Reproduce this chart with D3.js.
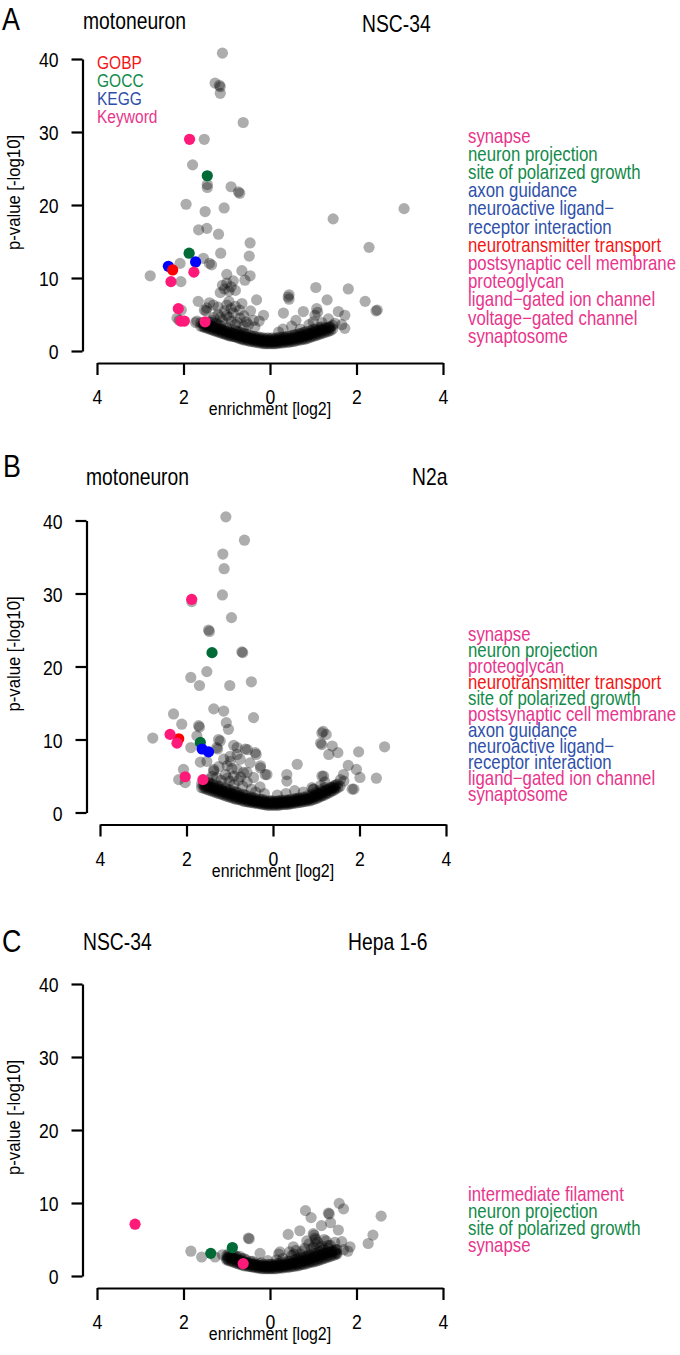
<!DOCTYPE html>
<html><head><meta charset="utf-8">
<script src="https://cdn.jsdelivr.net/npm/d3@7"></script>
<style>html,body{margin:0;padding:0;background:#fff;}svg{display:block;}</style>
</head><body>
<script>
// ---------------- DATA ----------------
const xTicks = [-4, -2, 0, 2, 4];
const xTickLabels = ["4", "2", "0", "2", "4"];
const yTicks = [0, 10, 20, 30, 40];
const categories = ["GOBP", "GOCC", "KEGG", "Keyword"];
const panelLetters = ["A", "B", "C"];
const leftTitles = ["motoneuron", "motoneuron", "NSC-34"];
const rightTitles = ["NSC-34", "N2a", "Hepa 1-6"];
const xLabel = "enrichment [log2]";
const yLabel = "p-value [-log10]";

// Panel A: grey (non-highlighted) terms [enrichment, -log10 p]
const grayA = [
 [-1.10,40.8],[-1.27,36.7],[-1.17,36.4],[-1.15,36.2],[-1.15,35.3],[-0.62,31.3],[-1.52,29.0],[-1.79,25.5],
 [-1.45,22.8],[-1.45,22.4],[-0.90,22.5],[-0.73,21.8],[-0.70,21.6],[-1.94,20.1],[-1.06,19.6],[-1.50,19.1],
 [3.10,19.5],[1.46,18.1],[-1.65,16.6],[-1.46,16.8],[-1.19,16.0],[-0.46,14.8],[2.29,14.2],[-0.48,13.0],
 [-1.14,13.4],[-1.54,12.7],[-2.08,12.0],[-1.40,12.0],[-1.35,11.8],[-2.77,10.3],[-2.06,9.5],[-1.00,10.5],
 [-0.65,11.0],[-0.46,10.3],[-0.58,9.7],[-1.10,9.0],[-1.00,9.3],[-0.90,8.8],[-0.95,8.2],[-1.05,8.5],
 [-0.85,9.6],[-1.15,8.0],[-0.80,8.3],[-0.31,7.0],[-1.66,6.8],[-1.00,6.3],[-0.65,6.5],[-0.95,6.8],
 [-0.90,5.8],[-1.31,6.3],[-1.52,5.6],[-1.48,5.5],[1.06,8.7],[1.81,8.5],[0.44,7.7],[0.44,7.1],[0.42,7.4],
 [1.32,7.0],[2.20,6.8],[2.45,5.5],[2.48,5.6],[0.31,5.2],[0.77,5.4],[1.08,5.8],[1.04,4.9],[1.10,5.3],
 [1.58,5.4],[1.73,4.9],[1.66,3.6],[1.73,3.1],[-0.15,4.9],[-1.46,5.9],[-1.69,4.1],[-1.72,3.9],[-2.15,4.5],
 [-2.10,4.2],[-2.05,5.6],[-1.00,4.9],[-0.69,4.5],[-0.38,4.2],
 [-1.30,4.6],[-1.20,5.0],[-1.10,4.2],[-0.95,4.6],[-0.85,5.2],[-0.75,3.9],[-0.60,4.8],[-0.50,3.6],
 [-0.35,3.3],[-0.25,4.1],[-1.25,3.8],[-0.80,3.6],[-0.60,3.4],[-0.45,5.5],[-1.05,5.5],[-0.70,5.6],
 [0.50,3.4],[0.70,3.0],[0.90,3.6],[1.00,4.0],[1.20,3.9],[0.30,3.0],[0.20,2.6],[0.60,4.2],[1.35,4.4],[1.50,3.8],
 [-1.35,4.2],[-1.15,4.6],[-0.90,4.1],[-0.55,4.0],[-1.40,6.6],[-1.20,6.0],[-0.80,6.1]
];
const bandA = [
 [-1.60,3.4],[-1.60,3.9],[-1.50,3.2],[-1.50,3.7],[-1.40,3.0],[-1.40,3.5],[-1.40,4.0],[-1.30,2.8],[-1.30,3.3],
 [-1.20,2.6],[-1.20,3.1],[-1.20,3.6],[-1.10,2.4],[-1.10,2.9],[-1.00,2.2],[-1.00,2.7],[-1.00,3.2],
 [-0.90,2.0],[-0.90,2.5],[-0.80,1.9],[-0.80,2.3],[-0.80,2.8],[-0.70,1.7],[-0.70,2.1],[-0.70,2.6],
 [-0.60,1.5],[-0.60,1.9],[-0.60,2.4],[-0.50,1.4],[-0.50,1.8],[-0.50,2.2],[-0.40,1.3],[-0.40,1.6],[-0.40,2.0],
 [-0.30,1.2],[-0.30,1.5],[-0.30,1.9],[-0.20,1.1],[-0.20,1.4],[-0.20,1.8],[-0.10,1.0],[-0.10,1.3],[-0.10,1.7],
 [0.00,1.0],[0.00,1.3],[0.00,1.7],[0.10,1.0],[0.10,1.3],[0.10,1.7],[0.20,1.1],[0.20,1.4],[0.20,1.8],
 [0.30,1.1],[0.30,1.5],[0.30,1.9],[0.40,1.2],[0.40,1.6],[0.40,2.0],[0.50,1.3],[0.50,1.7],[0.50,2.1],
 [0.60,1.4],[0.60,1.8],[0.60,2.2],[0.70,1.5],[0.70,1.9],[0.70,2.4],[0.80,1.6],[0.80,2.1],[0.80,2.6],
 [0.90,1.8],[0.90,2.3],[1.00,2.0],[1.00,2.5],[1.00,3.0],[1.10,2.2],[1.10,2.7],[1.20,2.4],[1.20,2.9],[1.20,3.3],
 [1.30,2.6],[1.30,3.1],[1.40,2.8],[1.40,3.3],
 [-1.55,3.3],[-1.55,3.8],[-1.45,3.1],[-1.45,3.6],[-1.35,2.9],[-1.35,3.4],[-1.35,3.9],[-1.25,2.7],[-1.25,3.2],
 [-1.15,2.5],[-1.15,3.0],[-1.15,3.5],[-1.05,2.3],[-1.05,2.8],[-0.95,2.1],[-0.95,2.6],[-0.95,3.1],[-0.85,2.0],
 [-0.85,2.5],[-0.75,1.8],[-0.75,2.2],[-0.75,2.7],[-0.65,1.6],[-0.65,2.0],[-0.65,2.5],[-0.55,1.5],[-0.55,1.9],
 [-0.55,2.3],[-0.45,1.3],[-0.45,1.7],[-0.45,2.1],[-0.35,1.2],[-0.35,1.6],[-0.35,2.0],[-0.25,1.1],[-0.25,1.5],
 [-0.25,1.9],[-0.15,1.0],[-0.15,1.4],[-0.15,1.8],[-0.05,1.0],[-0.05,1.4],[-0.05,1.8],[0.05,1.0],[0.05,1.4],
 [0.05,1.8],[0.15,1.0],[0.15,1.4],[0.15,1.8],[0.25,1.1],[0.25,1.5],[0.25,1.9],[0.35,1.2],[0.35,1.5],[0.35,1.9],
 [0.45,1.2],[0.45,1.6],[0.45,2.0],[0.55,1.3],[0.55,1.7],[0.55,2.2],[0.65,1.5],[0.65,1.9],[0.65,2.3],[0.75,1.6],
 [0.75,2.0],[0.75,2.5],[0.85,1.7],[0.85,2.2],[0.85,2.7],[0.95,1.9],[0.95,2.4],[0.95,2.8],[1.05,2.1],[1.05,2.6],
 [1.05,3.0],[1.15,2.3],[1.15,2.8],[1.15,3.2],[1.25,2.5],[1.25,3.0],[1.35,2.7],[1.35,3.2],[1.45,3.0],[1.45,3.5]
];
const coreA = [
 [-1.525,3.4],[-1.525,3.7],[-1.425,3.2],[-1.425,3.5],[-1.325,3.0],[-1.325,3.3],[-1.225,2.8],[-1.225,3.1],
 [-1.125,2.6],[-1.125,2.9],[-1.025,2.4],[-1.025,2.7],[-0.925,2.2],[-0.925,2.5],[-0.825,2.0],[-0.825,2.3],
 [-0.725,1.9],[-0.725,2.2],[-0.625,1.7],[-0.625,2.0],[-0.525,1.6],[-0.525,1.9],[-0.425,1.5],[-0.425,1.8],
 [-0.325,1.4],[-0.325,1.7],[-0.225,1.3],[-0.225,1.6],[-0.125,1.2],[-0.125,1.5],[-0.025,1.2],[-0.025,1.5],
 [0.075,1.2],[0.075,1.5],[0.175,1.2],[0.175,1.5],[0.275,1.3],[0.275,1.6],[0.375,1.4],[0.375,1.7],
 [0.475,1.5],[0.475,1.8],[0.575,1.6],[0.575,1.9],[0.675,1.7],[0.675,2.0],[0.775,1.8],[0.775,2.2],
 [0.875,2.0],[0.875,2.4],[0.975,2.2],[0.975,2.6],[1.075,2.4],[1.075,2.8],[1.175,2.6],[1.175,3.0],
 [1.275,2.8],[1.275,3.2],[1.375,3.0],[1.375,3.3]
];
const hitsA = [
 [-1.86,29.0,"Keyword"],[-1.45,24.0,"GOCC"],[-1.87,13.4,"GOCC"],[-2.35,11.6,"KEGG"],[-1.72,12.2,"KEGG"],
 [-2.25,11.1,"GOBP"],[-1.76,10.8,"Keyword"],[-2.29,9.5,"Keyword"],[-2.12,5.8,"Keyword"],[-2.06,4.1,"Keyword"],
 [-1.98,4.1,"Keyword"],[-1.50,4.0,"Keyword"]
];
const termsA = [
 ["synapse","Keyword"],["neuron projection","GOCC"],["site of polarized growth","GOCC"],["axon guidance","KEGG"],
 ["neuroactive ligand\u2212\nreceptor interaction","KEGG"],["neurotransmitter transport","GOBP"],
 ["postsynaptic cell membrane","Keyword"],["proteoglycan","Keyword"],["ligand\u2212gated ion channel","Keyword"],
 ["voltage\u2212gated channel","Keyword"],["synaptosome","Keyword"]
];

// Panel B
const grayB = [
 [-1.09,40.5],[-0.66,37.3],[-1.16,35.4],[-1.13,33.4],[-1.17,29.8],[-1.88,28.9],[-0.96,26.7],[-1.49,25.0],
 [-1.47,24.8],[-0.72,22.0],[-0.70,21.9],[-1.53,19.3],[-1.90,18.5],[-1.70,17.4],[-1.00,17.4],[-0.50,17.9],
 [-2.30,13.5],[-1.37,14.2],[-1.14,13.9],[-1.08,12.3],[-1.03,11.4],[-0.45,13.0],[-2.11,12.1],[-1.70,11.7],
 [-1.72,11.9],[-2.78,10.2],[-1.76,10.5],[1.13,10.9],[1.23,10.7],[1.16,11.1],[1.10,9.5],[1.37,9.1],[1.29,7.95],
 [1.50,8.2],[2.58,9.0],[1.98,8.3],[1.74,6.45],[1.93,5.9],[2.01,4.8],[2.39,4.7],[0.56,6.6],[-1.68,6.9],
 [-2.07,5.9],[-2.18,4.5],[-2.03,4.1],[-1.37,5.7],[-1.90,8.9],
 [-1.26,10.0],[-0.83,8.9],[-0.64,8.7],[-0.41,8.2],[-0.99,7.7],[-1.14,7.3],[-0.53,6.8],[-0.29,6.4],[-0.18,5.2],
 [-1.37,5.9],[-0.83,5.9],[-0.76,7.3],[-1.06,6.4],[-0.60,5.5],[-0.45,4.8],[-0.91,5.0],[-0.91,9.2],[-0.59,8.6],
 [-0.39,7.95],[-0.83,7.95],[-1.22,9.8],[-1.30,8.9],[-1.28,8.7],[-0.99,7.0],[-0.29,6.1],[-0.14,5.2],[-0.68,5.5],
 [-1.53,7.0],[0.32,4.3],[0.32,5.2],[1.17,5.0],[1.64,4.3],[1.87,3.2],[0.94,3.2],[1.63,5.2],[1.13,5.0],[1.40,3.4],
 [1.83,3.2],[1.56,4.5],[0.93,3.2],[1.13,9.3],
 [-1.50,4.5],[-1.40,5.0],[-1.20,4.4],[-1.10,5.2],[-1.00,4.3],[-0.90,3.8],[-0.80,4.4],[-0.70,3.6],[-0.60,4.2],
 [-0.50,3.2],[-0.40,2.8],[-0.30,3.5],[-0.20,2.6],[0.10,2.4],[0.30,2.6],[0.50,3.0],[0.70,2.8],[0.90,3.4],
 [1.10,3.7],[1.20,4.2],[-1.30,4.8],[-1.05,4.7],[-0.75,4.9],[-1.25,6.3],[-0.95,6.0]
];
const bandB = [
 [-1.65,3.4],[-1.65,3.9],[-1.55,3.2],[-1.55,3.7],[-1.45,3.0],[-1.45,3.5],[-1.45,4.0],[-1.35,2.8],[-1.35,3.3],
 [-1.25,2.6],[-1.25,3.1],[-1.25,3.6],[-1.15,2.4],[-1.15,2.9],[-1.05,2.2],[-1.05,2.7],[-1.05,3.2],[-0.95,2.0],
 [-0.95,2.5],[-0.85,1.8],[-0.85,2.3],[-0.85,2.8],[-0.75,1.7],[-0.75,2.1],[-0.65,1.5],[-0.65,1.9],[-0.65,2.4],
 [-0.55,1.4],[-0.55,1.8],[-0.45,1.3],[-0.45,1.6],[-0.45,2.0],[-0.35,1.2],[-0.35,1.5],[-0.25,1.1],[-0.25,1.4],
 [-0.25,1.8],[-0.15,1.0],[-0.15,1.3],[-0.05,1.0],[-0.05,1.3],[-0.05,1.6],[0.05,1.0],[0.05,1.3],[0.15,1.0],
 [0.15,1.3],[0.15,1.6],[0.25,1.1],[0.25,1.4],[0.35,1.1],[0.35,1.4],[0.35,1.7],[0.45,1.2],[0.45,1.5],[0.55,1.3],
 [0.55,1.6],[0.55,1.9],[0.65,1.4],[0.65,1.7],[0.75,1.5],[0.75,1.8],[0.85,1.6],[0.85,1.9],[0.95,1.8],[0.95,2.2],
 [1.05,2.0],[1.05,2.5],[1.15,2.3],[1.15,2.8],[1.25,2.6],[1.25,3.1],[1.35,2.9],[1.35,3.4],[1.45,3.2],[1.45,3.8],
 [1.55,3.6],
 [-1.60,3.3],[-1.60,3.8],[-1.60,4.3],[-1.50,3.1],[-1.50,3.6],[-1.50,4.1],[-1.40,2.9],[-1.40,3.4],[-1.40,3.9],
 [-1.30,2.7],[-1.30,3.2],[-1.30,3.7],[-1.20,2.5],[-1.20,3.0],[-1.20,3.5],[-1.10,2.3],[-1.10,2.8],[-1.10,3.3],
 [-1.00,2.1],[-1.00,2.6],[-1.00,3.1],[-0.90,1.9],[-0.90,2.4],[-0.90,2.9],[-0.80,1.8],[-0.80,2.2],[-0.80,2.7],
 [-0.70,1.6],[-0.70,2.0],[-0.70,2.5],[-0.60,1.5],[-0.60,1.9],[-0.60,2.3],[-0.50,1.4],[-0.50,1.7],[-0.50,2.1],
 [-0.40,1.3],[-0.40,1.6],[-0.40,1.9],[-0.30,1.2],[-0.30,1.5],[-0.30,1.8],[-0.20,1.1],[-0.20,1.4],[-0.20,1.7],
 [-0.10,1.0],[-0.10,1.3],[-0.10,1.6],[0.00,1.0],[0.00,1.3],[0.00,1.6],[0.10,1.0],[0.10,1.3],[0.10,1.6],
 [0.20,1.1],[0.20,1.4],[0.20,1.7],[0.30,1.1],[0.30,1.4],[0.30,1.7],[0.40,1.2],[0.40,1.5],[0.40,1.8],
 [0.50,1.3],[0.50,1.6],[0.50,1.9],[0.60,1.4],[0.60,1.7],[0.60,2.0],[0.70,1.5],[0.70,1.8],[0.70,2.1],
 [0.80,1.6],[0.80,1.9],[0.80,2.3],[0.90,1.7],[0.90,2.1],[0.90,2.5],[1.00,1.9],[1.00,2.3],[1.00,2.8],
 [1.10,2.2],[1.10,2.6],[1.10,3.1],[1.20,2.4],[1.20,2.9],[1.20,3.4],[1.30,2.7],[1.30,3.2],[1.40,3.0],[1.40,3.5],
 [1.50,3.4],[1.50,3.9]
];
const coreB = [
 [-1.575,3.5],[-1.575,3.9],[-1.475,3.3],[-1.475,3.7],[-1.375,3.1],[-1.375,3.5],[-1.275,2.9],[-1.275,3.3],
 [-1.175,2.7],[-1.175,3.1],[-1.075,2.5],[-1.075,2.9],[-0.975,2.3],[-0.975,2.7],[-0.875,2.1],[-0.875,2.5],
 [-0.775,1.9],[-0.775,2.3],[-0.675,1.8],[-0.675,2.1],[-0.575,1.6],[-0.575,1.9],[-0.475,1.5],[-0.475,1.8],
 [-0.375,1.4],[-0.375,1.7],[-0.275,1.3],[-0.275,1.6],[-0.175,1.2],[-0.175,1.5],[-0.075,1.2],[-0.075,1.5],
 [0.025,1.2],[0.025,1.5],[0.125,1.2],[0.125,1.5],[0.225,1.3],[0.225,1.6],[0.325,1.3],[0.325,1.6],
 [0.425,1.4],[0.425,1.7],[0.525,1.5],[0.525,1.8],[0.625,1.6],[0.625,1.9],[0.725,1.7],[0.725,2.0],
 [0.825,1.8],[0.825,2.1],[0.925,2.0],[0.925,2.3],[1.025,2.2],[1.025,2.6],[1.125,2.4],[1.125,2.9],
 [1.225,2.7],[1.225,3.1],[1.325,3.0],[1.325,3.4],[1.425,3.3],[1.425,3.7]
];
const hitsB = [
 [-1.88,29.2,"Keyword"],[-1.41,21.9,"GOCC"],[-2.18,10.1,"GOBP"],[-2.38,10.7,"Keyword"],[-2.22,9.5,"Keyword"],
 [-1.68,9.6,"GOCC"],[-1.64,8.7,"KEGG"],[-1.49,8.3,"KEGG"],[-2.03,4.9,"Keyword"],[-1.62,4.5,"Keyword"]
];
const termsB = [
 ["synapse","Keyword"],["neuron projection","GOCC"],["proteoglycan","Keyword"],["neurotransmitter transport","GOBP"],
 ["site of polarized growth","GOCC"],["postsynaptic cell membrane","Keyword"],["axon guidance","KEGG"],
 ["neuroactive ligand\u2212\nreceptor interaction","KEGG"],["ligand\u2212gated ion channel","Keyword"],["synaptosome","Keyword"]
];

// Panel C
const grayC = [
 [-1.83,3.4],[-1.58,2.6],[-1.27,2.6],[-0.48,5.1],[-0.50,5.2],[-0.23,3.1],[0.23,3.3],[0.42,5.7],[0.69,6.2],
 [0.82,8.95],[0.95,8.0],[1.19,6.9],[1.37,8.5],[1.35,8.6],[1.40,7.3],[1.58,6.3],[1.60,9.95],[1.70,9.2],[1.66,4.7],
 [1.85,4.0],[2.27,4.45],[2.38,5.6],[2.57,8.2],[1.00,5.8],[1.02,5.6],[1.04,5.2],[1.06,5.0],[0.54,4.0],[1.54,3.1],
 [0.30,2.4],[0.50,2.8],[0.60,3.5],[0.70,3.0],[0.80,3.8],[0.90,4.4],[1.00,3.9],[1.10,4.6],[1.20,4.1],[1.30,4.8],
 [1.40,4.2],[1.50,4.6],[0.90,2.9],[-0.90,2.9],[-1.10,2.9],[-0.70,2.7],[0.45,3.3],[0.15,2.2],[-0.05,2.1],
 [1.70,3.6],[1.80,3.4],[0.20,3.0],[-1.00,2.4],[-0.95,3.1],
 [0.55,3.0],[0.75,3.4],[0.95,3.7],[1.15,3.9],[1.35,4.2],[1.05,4.4],[0.85,4.8],[1.25,5.0],[0.65,2.6]
];
const bandC = [
 [-1.00,2.2],[-1.00,2.8],[-0.90,2.0],[-0.90,2.5],[-0.80,1.8],[-0.80,2.3],[-0.80,2.8],[-0.70,1.6],[-0.70,2.1],
 [-0.60,1.4],[-0.60,1.9],[-0.60,2.4],[-0.50,1.3],[-0.50,1.7],[-0.40,1.2],[-0.40,1.6],[-0.40,2.0],[-0.30,1.1],
 [-0.30,1.5],[-0.20,1.0],[-0.20,1.4],[-0.20,1.8],[-0.10,1.0],[-0.10,1.3],[0.00,1.0],[0.00,1.3],[0.00,1.6],
 [0.10,1.0],[0.10,1.4],[0.20,1.1],[0.20,1.4],[0.20,1.7],[0.30,1.1],[0.30,1.5],[0.40,1.2],[0.40,1.6],[0.40,2.0],
 [0.50,1.3],[0.50,1.7],[0.60,1.4],[0.60,1.8],[0.60,2.3],[0.70,1.5],[0.70,2.0],[0.80,1.6],[0.80,2.1],[0.80,2.6],
 [0.90,1.8],[0.90,2.3],[1.00,1.9],[1.00,2.5],[1.00,3.1],[1.10,2.1],[1.10,2.7],[1.20,2.3],[1.20,2.9],[1.20,3.5],
 [1.30,2.5],[1.30,3.1],[1.40,2.7],[1.40,3.3],[1.50,2.9],[1.50,3.5],
 [-0.95,2.1],[-0.95,2.6],[-0.85,1.9],[-0.85,2.4],[-0.85,2.9],[-0.75,1.7],[-0.75,2.2],[-0.75,2.6],[-0.65,1.5],
 [-0.65,2.0],[-0.65,2.4],[-0.55,1.4],[-0.55,1.8],[-0.55,2.2],[-0.45,1.3],[-0.45,1.6],[-0.45,2.0],[-0.35,1.2],
 [-0.35,1.5],[-0.35,1.8],[-0.25,1.1],[-0.25,1.4],[-0.25,1.7],[-0.15,1.0],[-0.15,1.3],[-0.15,1.6],[-0.05,1.0],
 [-0.05,1.3],[-0.05,1.6],[0.05,1.0],[0.05,1.3],[0.05,1.6],[0.15,1.0],[0.15,1.4],[0.15,1.7],[0.25,1.1],[0.25,1.4],
 [0.25,1.8],[0.35,1.2],[0.35,1.5],[0.35,1.9],[0.45,1.2],[0.45,1.6],[0.45,2.0],[0.55,1.3],[0.55,1.7],[0.55,2.1],
 [0.65,1.4],[0.65,1.8],[0.65,2.3],[0.75,1.6],[0.75,2.0],[0.75,2.5],[0.85,1.7],[0.85,2.2],[0.85,2.7],[0.95,1.9],
 [0.95,2.4],[0.95,2.9],[1.05,2.0],[1.05,2.6],[1.05,3.1],[1.15,2.2],[1.15,2.8],[1.15,3.3],[1.25,2.4],[1.25,3.0],
 [1.25,3.6],[1.35,2.6],[1.35,3.2],[1.35,3.8],[1.45,2.8],[1.45,3.4],[1.55,3.0],[1.55,3.6]
];
const coreC = [
 [-0.975,2.3],[-0.975,2.6],[-0.875,2.1],[-0.875,2.5],[-0.775,1.9],[-0.775,2.3],[-0.675,1.7],[-0.675,2.1],
 [-0.575,1.6],[-0.575,1.9],[-0.475,1.4],[-0.475,1.8],[-0.375,1.3],[-0.375,1.6],[-0.275,1.2],[-0.275,1.5],
 [-0.175,1.2],[-0.175,1.4],[-0.075,1.1],[-0.075,1.4],[0.025,1.1],[0.025,1.4],[0.125,1.2],[0.125,1.5],
 [0.225,1.2],[0.225,1.5],[0.325,1.3],[0.325,1.6],[0.425,1.4],[0.425,1.7],[0.525,1.5],[0.525,1.8],
 [0.625,1.6],[0.625,2.0],[0.725,1.7],[0.725,2.1],[0.825,1.9],[0.825,2.3],[0.925,2.0],[0.925,2.5],
 [1.025,2.2],[1.025,2.7],[1.125,2.4],[1.125,2.9],[1.225,2.6],[1.225,3.1],[1.325,2.8],[1.325,3.3],
 [1.425,3.0],[1.425,3.4],[1.525,3.2],[1.525,3.6]
];
const hitsC = [
 [-3.12,7.1,"Keyword"],[-1.37,3.1,"GOCC"],[-0.87,3.9,"GOCC"],[-0.62,1.7,"Keyword"]
];
const termsC = [
 ["intermediate filament","Keyword"],["neuron projection","GOCC"],["site of polarized growth","GOCC"],["synapse","Keyword"]
];

// ---------------- STYLE / LAYOUT ----------------
const dotColors = {GOBP:"#ff0000", GOCC:"#006b37", KEGG:"#0000ff", Keyword:"#ff1a7a"};
const textColors = {GOBP:"#f41414", GOCC:"#138a4a", KEGG:"#2e50aa", Keyword:"#e8358c"};
const FONT = "'Liberation Sans', Arial, Helvetica, sans-serif";
const SX = 0.84; // horizontal text condensation
const R = 5.6;

const W = 680, H = 1355;
const svg = d3.select("body").append("svg").attr("width", W).attr("height", H)
  .attr("viewBox", `0 0 ${W} ${H}`);

function txt(g, x, y, s, o = {}) {
  return g.append("text")
    .attr("transform", `translate(${x},${y})${o.rotate ? ` rotate(${o.rotate})` : ""} scale(${o.sx ?? SX},1)`)
    .attr("font-family", FONT).attr("font-size", o.size || 20)
    .attr("fill", o.fill || "#000")
    .attr("text-anchor", o.anchor || "start")
    .text(s);
}

const layouts = [
  {dy: 0,     xr: [97, 443],  axX: 82.5, letter: [2, 30],  lt: [83, 29],   rt: [362, 32],   legY: 142.5, legStep: 18.2, leftLegend: true},
  {dy: 461.5, xr: [100, 446], axX: 86.5, letter: [3, 15.5], lt: [86, 23.5], rt: [412, 23.5], legY: 179.2, legStep: 16.0, leftLegend: false},
  {dy: 925,   xr: [97, 443],  axX: 82.5, letter: [2, 27],  lt: [83, 25],   rt: [348, 25],   legY: 275.7, legStep: 17.0, leftLegend: false}
];
const grays = [grayA.concat(bandA, coreA), grayB.concat(bandB, coreB), grayC.concat(bandC, coreC)];
const hits = [hitsA, hitsB, hitsC];
const terms = [termsA, termsB, termsC];

layouts.forEach((L, i) => {
  const g = svg.append("g").attr("transform", `translate(0,${L.dy})`);
  const x = d3.scaleLinear().domain([-4, 4]).range(L.xr);
  const y = d3.scaleLinear().domain([0, 40]).range([351, 59]);

  // titles
  txt(g, L.letter[0], L.letter[1], panelLetters[i], {size: 32});
  txt(g, L.lt[0], L.lt[1], leftTitles[i], {size: 23});
  txt(g, L.rt[0], L.rt[1], rightTitles[i], {size: 23});

  // y axis
  const gy = g.append("g").attr("transform", `translate(${L.axX},0)`)
    .call(d3.axisLeft(y).tickValues(yTicks).tickSize(11).tickSizeOuter(0));
  gy.select(".domain").attr("stroke-width", 2.2);
  gy.selectAll(".tick line").attr("stroke-width", 2.2);
  gy.selectAll(".tick text").attr("x", null).attr("dy", null)
    .attr("transform", `translate(-24,7.5) scale(${SX},1)`)
    .attr("font-size", 21).attr("font-family", FONT).attr("fill", "#000");

  // x axis
  const gx = g.append("g").attr("transform", `translate(0,363)`)
    .call(d3.axisBottom(x).tickValues(xTicks).tickFormat((d, k) => xTickLabels[k]).tickSize(12).tickSizeOuter(0));
  gx.select(".domain").attr("stroke-width", 2.2);
  gx.selectAll(".tick line").attr("stroke-width", 2.2);
  gx.selectAll(".tick text").attr("y", null).attr("dy", null)
    .attr("transform", `translate(0,41) scale(${SX},1)`)
    .attr("font-size", 21).attr("font-family", FONT).attr("fill", "#000");

  // axis titles
  txt(g, (L.xr[0] + L.xr[1]) / 2, 415, xLabel, {size: 19, anchor: "middle"});
  txt(g, 20, 192.5, yLabel, {size: 19, anchor: "middle", rotate: -90, sx: 0.88});

  // points
  g.append("g").selectAll("circle").data(grays[i]).join("circle")
    .attr("cx", d => x(d[0])).attr("cy", d => y(d[1])).attr("r", R)
    .attr("fill", "#000").attr("fill-opacity", 0.32);
  g.append("g").selectAll("circle").data(hits[i]).join("circle")
    .attr("cx", d => x(d[0])).attr("cy", d => y(d[1])).attr("r", R)
    .attr("fill", d => dotColors[d[2]]);

  // left category legend
  if (L.leftLegend) {
    categories.forEach((c, k) => txt(g, 97, 69 + k * 18, c, {size: 18.5, fill: textColors[c]}));
  }

  // right term legend
  let line = 0;
  terms[i].forEach(([label, cat]) => {
    label.split("\n").forEach(part => {
      txt(g, 468, L.legY + line * L.legStep, part, {size: 20, fill: textColors[cat]});
      line++;
    });
  });
});
</script>
</body></html>
